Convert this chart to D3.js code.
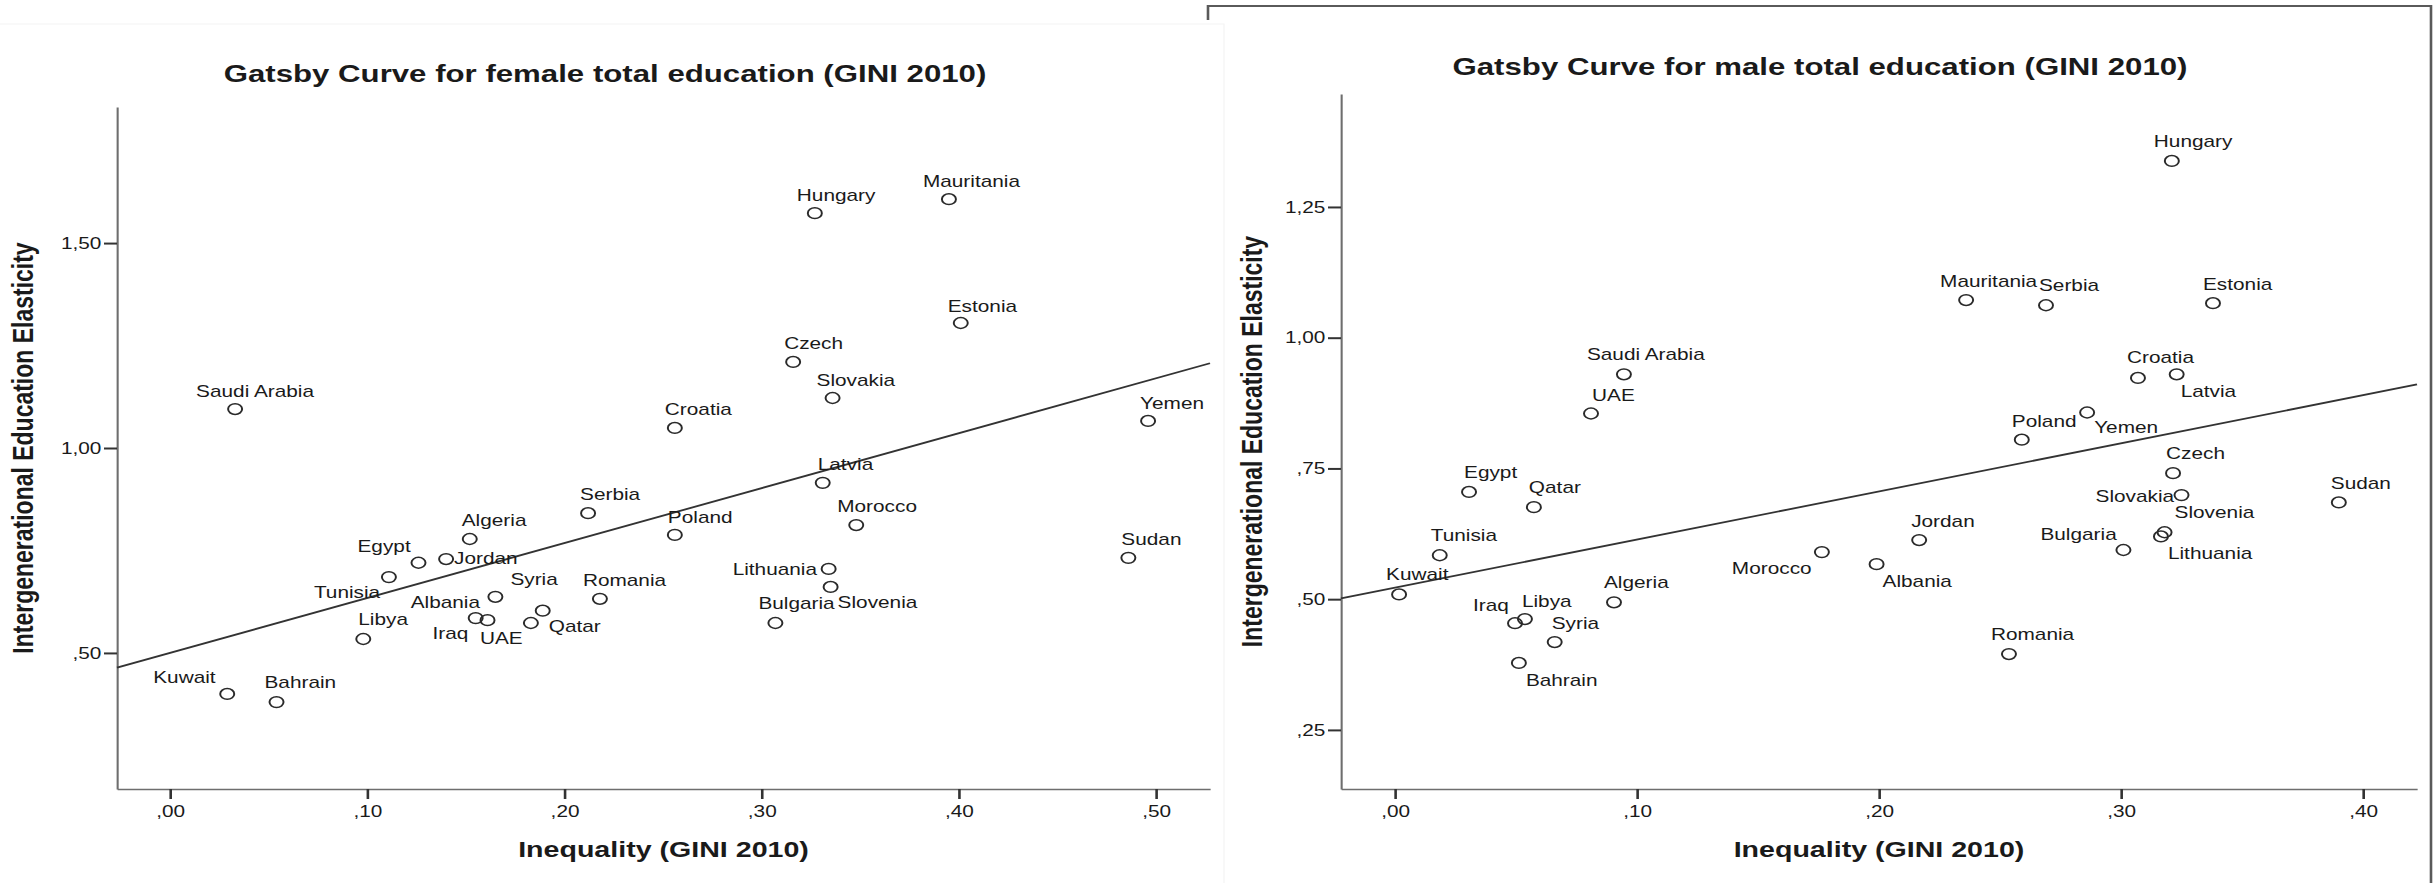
<!DOCTYPE html>
<html>
<head>
<meta charset="utf-8">
<script src="https://cdn.jsdelivr.net/npm/d3@7"></script>
<style>
  body { margin: 0; background: #fff; }
  svg text { font-family: "Liberation Sans", Arial, sans-serif; fill: #1a1a1a; }
</style>
</head>
<body>
<div id="chart"></div>
<script>
// ---- data ----
const countries = ["Hungary", "Mauritania", "Estonia", "Czech", "Slovakia", "Saudi Arabia", "Croatia", "Yemen",
  "Latvia", "Serbia", "Morocco", "Poland", "Algeria", "Sudan", "Egypt", "Jordan", "Tunisia", "Lithuania",
  "Slovenia", "Syria", "Romania", "Qatar", "Albania", "Iraq", "UAE", "Libya", "Bulgaria", "Kuwait", "Bahrain"];

const femaleGini = [0.327, 0.395, 0.401, 0.316, 0.336, 0.033, 0.256, 0.496,
  0.331, 0.212, 0.348, 0.256, 0.152, 0.486, 0.126, 0.140, 0.111, 0.334,
  0.335, 0.165, 0.218, 0.189, 0.155, 0.161, 0.183, 0.098, 0.307, 0.029, 0.054];
const femaleElasticity = [1.573, 1.607, 1.305, 1.210, 1.122, 1.095, 1.049, 1.066,
  0.915, 0.841, 0.812, 0.788, 0.778, 0.732, 0.720, 0.729, 0.685, 0.705,
  0.661, 0.637, 0.632, 0.603, 0.585, 0.580, 0.573, 0.534, 0.573, 0.400, 0.380];

const maleGini = [0.321, 0.236, 0.338, 0.3215, 0.325, 0.0946, 0.307, 0.286,
  0.323, 0.269, 0.1764, 0.259, 0.0905, 0.390, 0.0306, 0.2166, 0.0185, 0.3165,
  0.318, 0.066, 0.2537, 0.0574, 0.199, 0.0496, 0.081, 0.0537, 0.301, 0.0017, 0.0512];
const maleElasticity = [1.338, 1.072, 1.066, 0.741, 0.699, 0.930, 0.923, 0.857,
  0.930, 1.062, 0.590, 0.805, 0.494, 0.685, 0.705, 0.613, 0.584, 0.620,
  0.628, 0.418, 0.395, 0.676, 0.567, 0.454, 0.855, 0.462, 0.594, 0.509, 0.378];

// linear fit: [intercept, slope]
const femaleFit = [0.50, 1.34];
const maleFit = [0.522, 0.92];

const femaleXTicks = [0, 0.1, 0.2, 0.3, 0.4, 0.5];
const femaleYTicks = [0.5, 1.0, 1.5];
const maleXTicks = [0, 0.1, 0.2, 0.3, 0.4];
const maleYTicks = [0.25, 0.5, 0.75, 1.0, 1.25];

const femaleXDomain = [-0.0269, 0.5274];
const femaleYDomain = [0.168, 1.832];
const maleXDomain = [-0.0223, 0.4223];
const maleYDomain = [0.137, 1.466];

// ---- layout ----
const W = 2435, H = 883;
const SX = 1.3; // the original picture is stretched sideways
const px = v => v / SX;

// label placement relative to each point: [dx to label start, dy to baseline], in screen px
const femaleLabelOffsets = {
  "Hungary": [-18, -12], "Mauritania": [-26, -12], "Estonia": [-13, -11], "Czech": [-9, -13],
  "Slovakia": [-16, -12], "Saudi Arabia": [-39, -12], "Croatia": [-10, -13], "Yemen": [-8, -12],
  "Latvia": [-5, -13], "Serbia": [-8, -13], "Morocco": [-19, -13], "Poland": [-7, -12],
  "Algeria": [-8, -13], "Sudan": [-7, -13], "Egypt": [-61, -11], "Jordan": [8, 5],
  "Tunisia": [-75, 21], "Lithuania": [-96, 6], "Slovenia": [7, 21], "Syria": [15, -12],
  "Romania": [-17, -13], "Qatar": [6, 21], "Albania": [-65, -10], "Iraq": [-55, 19],
  "UAE": [-51, 21], "Libya": [-5, -14], "Bulgaria": [-17, -14], "Kuwait": [-74, -11], "Bahrain": [-12, -14]
};
const maleLabelOffsets = {
  "Hungary": [-18, -14], "Mauritania": [-26, -13], "Serbia": [-7, -14], "Estonia": [-10, -13],
  "Saudi Arabia": [-37, -14], "Croatia": [-11, -15], "Latvia": [4, 23], "UAE": [1, -13],
  "Poland": [-10, -13], "Yemen": [7, 21], "Czech": [-7, -14], "Egypt": [-5, -14], "Qatar": [-5, -14],
  "Slovakia": [-86, 7], "Sudan": [-8, -13], "Slovenia": [10, -14], "Lithuania": [7, 23],
  "Jordan": [-8, -13], "Bulgaria": [-83, -10], "Morocco": [-90, 22], "Albania": [6, 23],
  "Tunisia": [-9, -14], "Kuwait": [-13, -14], "Algeria": [-10, -14], "Libya": [-3, -12],
  "Iraq": [-42, -12], "Syria": [-3, -13], "Romania": [-18, -14], "Bahrain": [7, 23]
};

const panels = [
  { title: "Gatsby Curve for female total education (GINI 2010)",
    gini: femaleGini, elast: femaleElasticity, fit: femaleFit,
    xTicks: femaleXTicks, yTicks: femaleYTicks, xDomain: femaleXDomain, yDomain: femaleYDomain,
    left: 117, right: 1210, top: 107, bottom: 789,
    titleX: 605, titleY: 82, yLabelX: 33, offsets: femaleLabelOffsets },
  { title: "Gatsby Curve for male total education (GINI 2010)",
    gini: maleGini, elast: maleElasticity, fit: maleFit,
    xTicks: maleXTicks, yTicks: maleYTicks, xDomain: maleXDomain, yDomain: maleYDomain,
    left: 1341, right: 2417, top: 94, bottom: 789,
    titleX: 1820, titleY: 75, yLabelX: 1262, offsets: maleLabelOffsets }
];

// SPSS style numbers: ,50  1,00
const fmt = v => {
  let s = d3.format(".2f")(v).replace(".", ",");
  return s.startsWith("0,") ? s.slice(1) : s;
};

const svg = d3.select("#chart").append("svg")
    .attr("width", W)
    .attr("height", H)
    .attr("viewBox", `0 0 ${px(W)} ${H}`)
    .attr("preserveAspectRatio", "none");

svg.append("rect")
    .attr("width", px(W))
    .attr("height", H)
    .attr("fill", "#fff");

// faint panel edges
svg.append("path")
    .attr("d", `M0,24H${px(1224)}V${H}`)
    .attr("fill", "none")
    .attr("stroke", "#f4f4f4")
    .attr("stroke-width", 1);

// frame of the right panel
svg.append("path")
    .attr("d", `M${px(1208)},20V6H${px(2431)}V${H}`)
    .attr("fill", "none")
    .attr("stroke", "#5a5a5a")
    .attr("stroke-width", 2);

panels.forEach(p => {
  const x = d3.scaleLinear().domain(p.xDomain).range([px(p.left), px(p.right)]);
  const y = d3.scaleLinear().domain(p.yDomain).range([p.bottom, p.top]);
  const g = svg.append("g");

  const xAxis = g.append("g")
      .attr("transform", `translate(0,${p.bottom})`)
      .call(d3.axisBottom(x).tickValues(p.xTicks).tickFormat(fmt)
        .tickSize(10).tickSizeOuter(0).tickPadding(7));

  const yAxis = g.append("g")
      .attr("transform", `translate(${px(p.left)},0)`)
      .call(d3.axisLeft(y).tickValues(p.yTicks).tickFormat(fmt)
        .tickSize(10).tickSizeOuter(0).tickPadding(2));

  [xAxis, yAxis].forEach(a => {
    a.attr("font-family", null).attr("font-size", null);
    a.select(".domain").attr("stroke", "#6e6e6e").attr("stroke-width", 1.6);
    a.selectAll(".tick line").attr("stroke", "#333").attr("stroke-width", 2);
    a.selectAll(".tick text").attr("font-size", 16).attr("fill", "#222");
  });

  // fit line
  const x0 = p.xDomain[0], x1 = p.xDomain[1];
  g.append("line")
      .attr("x1", x(x0)).attr("y1", y(p.fit[0] + p.fit[1] * x0))
      .attr("x2", x(x1)).attr("y2", y(p.fit[0] + p.fit[1] * x1))
      .attr("stroke", "#333")
      .attr("stroke-width", 1.8);

  const pts = countries.map((c, i) => ({ name: c, gx: p.gini[i], ey: p.elast[i] }));

  g.selectAll(".dot")
      .data(pts)
      .enter().append("circle")
      .attr("class", "dot")
      .attr("cx", d => x(d.gx))
      .attr("cy", d => y(d.ey))
      .attr("r", 5.4)
      .attr("fill", "none")
      .attr("stroke", "#2a2a2a")
      .attr("stroke-width", 1.5);

  g.selectAll(".lbl")
      .data(pts)
      .enter().append("text")
      .attr("class", "lbl")
      .attr("x", d => x(d.gx) + px(p.offsets[d.name][0]))
      .attr("y", d => y(d.ey) + p.offsets[d.name][1])
      .attr("font-size", 16)
      .text(d => d.name);

  g.append("text")
      .attr("x", px(p.titleX))
      .attr("y", p.titleY)
      .attr("text-anchor", "middle")
      .attr("font-size", 24)
      .attr("font-weight", "bold")
      .text(p.title);

  g.append("text")
      .attr("x", (x.range()[0] + x.range()[1]) / 2)
      .attr("y", 857)
      .attr("text-anchor", "middle")
      .attr("font-size", 22)
      .attr("font-weight", "bold")
      .text("Inequality (GINI 2010)");

  g.append("text")
      .attr("transform", `translate(${px(p.yLabelX)},${(p.top + p.bottom) / 2}) rotate(-90)`)
      .attr("text-anchor", "middle")
      .attr("font-size", 23)
      .attr("font-weight", "bold")
      .text("Intergenerational Education Elasticity");
});
</script>
</body>
</html>
